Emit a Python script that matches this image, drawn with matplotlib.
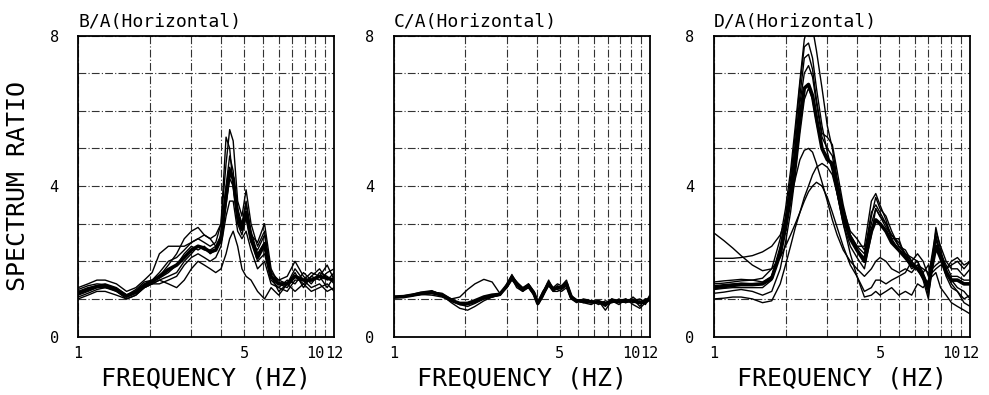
import matplotlib
matplotlib.use("Agg")
import matplotlib.pyplot as plt

plt.rcParams['font.family'] = ['DejaVu Sans Mono']

# ---- B/A (Horizontal) ----
freq_ba = [1.0, 1.1, 1.2, 1.3, 1.45, 1.6, 1.75, 1.9, 2.05, 2.2, 2.4, 2.6, 2.8, 3.0, 3.2, 3.4,
           3.6, 3.8, 4.0, 4.2, 4.35, 4.5, 4.7, 4.9, 5.1, 5.35, 5.7, 6.1, 6.5, 7.0, 7.6, 8.2,
           8.9, 9.6, 10.4, 11.2, 12.0]
ba_curves = [
    [1.25, 1.35, 1.40, 1.38, 1.25, 1.10, 1.25, 1.45, 1.50, 1.70, 2.00, 2.10, 2.30, 2.50, 2.60, 2.50,
     2.40, 2.50, 3.00, 4.60, 5.50, 5.20, 3.60, 3.20, 3.90, 3.00, 2.40, 2.80, 1.60, 1.50, 1.40, 1.80,
     1.50, 1.70, 1.60, 1.90, 1.50],
    [1.10, 1.20, 1.30, 1.30, 1.20, 1.05, 1.20, 1.40, 1.50, 1.60, 1.90, 2.20, 2.60, 2.80, 2.90, 2.70,
     2.60, 2.70, 3.00, 5.30, 5.00, 4.00, 3.00, 2.90, 3.50, 2.70, 2.50, 3.00, 1.80, 1.40, 1.30, 1.60,
     1.40, 1.60, 1.80, 1.50, 1.70],
    [1.30, 1.40, 1.50, 1.50, 1.40, 1.20, 1.30, 1.50, 1.70, 2.20, 2.40, 2.40, 2.40, 2.50, 2.60, 2.70,
     2.60, 2.40, 2.50, 3.80, 4.50, 4.20, 3.40, 3.00, 3.60, 2.80, 2.20, 2.50, 1.70, 1.50, 1.60, 2.00,
     1.60, 1.40, 1.70, 1.60, 1.40],
    [1.00, 1.10, 1.20, 1.20, 1.10, 1.00, 1.10, 1.30, 1.40, 1.50, 1.40, 1.30, 1.50, 1.80, 2.00, 1.90,
     1.80, 1.70, 1.80, 2.20, 2.60, 2.80, 2.40, 1.80, 1.60, 1.50, 1.20, 1.00, 1.30, 1.10, 1.40, 1.20,
     1.40, 1.20, 1.30, 1.40, 1.20],
    [1.15, 1.25, 1.35, 1.40, 1.30, 1.10, 1.20, 1.35, 1.45, 1.55, 1.70, 1.90, 2.20, 2.40, 2.30, 2.40,
     2.20, 2.30, 2.60, 3.50, 4.20, 4.00, 3.20, 3.00, 3.20, 2.60, 2.00, 2.20, 1.50, 1.30, 1.50, 1.40,
     1.70, 1.50, 1.60, 1.30, 1.60],
    [1.05, 1.15, 1.25, 1.30, 1.25, 1.05, 1.15, 1.30, 1.40, 1.50, 1.60, 1.70, 2.00, 2.20, 2.40, 2.30,
     2.30, 2.40, 2.70, 4.00, 4.80, 4.40, 3.00, 2.70, 3.20, 2.50, 2.30, 2.70, 1.60, 1.20, 1.40, 1.70,
     1.30, 1.60, 1.50, 1.70, 1.80],
    [1.20, 1.30, 1.35, 1.35, 1.20, 1.00, 1.10, 1.30, 1.40, 1.40, 1.50, 1.60, 1.90, 2.10, 2.20, 2.10,
     2.00, 2.10, 2.40, 3.20, 3.60, 3.60, 2.80, 2.60, 2.80, 2.30, 1.80, 2.00, 1.40, 1.30, 1.20, 1.50,
     1.50, 1.30, 1.40, 1.20, 1.30],
]
ba_mean = [1.15, 1.25, 1.33, 1.35, 1.25, 1.08, 1.18, 1.36, 1.46, 1.60, 1.78, 1.90, 2.10, 2.30, 2.40, 2.35,
           2.25, 2.30, 2.60, 3.75, 4.40, 4.20, 3.20, 2.85, 3.30, 2.60, 2.10, 2.45, 1.60, 1.40, 1.40, 1.60,
           1.50, 1.50, 1.60, 1.55, 1.50]

# ---- C/A (Horizontal) ----
freq_ca = [1.0, 1.1, 1.2, 1.3, 1.45, 1.6, 1.75, 1.9, 2.05, 2.2, 2.4, 2.6, 2.8, 3.0, 3.15, 3.3,
           3.5, 3.7, 3.9, 4.05, 4.25, 4.5, 4.7, 4.9, 5.1, 5.35, 5.6, 5.9, 6.3, 6.8, 7.3, 7.8,
           8.3, 8.9, 9.5, 10.2, 10.9, 11.5, 12.0]
ca_curves = [
    [1.05, 1.07, 1.10, 1.12, 1.15, 1.10, 1.00, 1.05, 1.25, 1.40, 1.52, 1.45, 1.15, 1.30, 1.55, 1.30,
     1.20, 1.40, 1.10, 0.90, 1.20, 1.40, 1.30, 1.25, 1.20, 1.30, 1.00, 0.95, 0.90, 0.95, 0.85, 0.95,
     0.90, 1.00, 0.90, 0.95, 1.00, 0.90, 1.00],
    [1.05, 1.08, 1.12, 1.18, 1.22, 1.10, 0.90, 0.75, 0.70, 0.80, 0.95, 1.05, 1.10, 1.35, 1.65, 1.40,
     1.25, 1.35, 1.15, 0.85, 1.05, 1.45, 1.20, 1.30, 1.35, 1.50, 1.05, 0.95, 0.95, 0.90, 0.95, 0.70,
     0.95, 0.85, 1.00, 0.85, 0.75, 0.90, 1.10],
    [1.05, 1.06, 1.08, 1.15, 1.20, 1.12, 0.95, 0.85, 0.85, 0.90, 1.00, 1.05, 1.10, 1.40, 1.60, 1.45,
     1.25, 1.30, 1.20, 0.90, 1.15, 1.50, 1.25, 1.35, 1.30, 1.40, 1.00, 0.90, 1.00, 0.95, 0.90, 0.85,
     1.00, 0.90, 0.95, 1.00, 0.80, 1.00, 0.95],
    [1.03, 1.05, 1.10, 1.12, 1.10, 1.05, 0.95, 0.88, 0.90, 0.95, 1.02, 1.08, 1.10, 1.30, 1.50, 1.35,
     1.20, 1.30, 1.10, 0.85, 1.10, 1.35, 1.20, 1.20, 1.25, 1.35, 1.05, 0.95, 0.90, 0.85, 0.95, 0.90,
     0.90, 0.95, 1.00, 0.90, 0.95, 0.85, 1.05],
    [1.04, 1.06, 1.09, 1.12, 1.18, 1.15, 1.00, 0.85, 0.80, 0.88, 1.00, 1.05, 1.12, 1.35, 1.58, 1.45,
     1.30, 1.40, 1.20, 0.88, 1.10, 1.40, 1.30, 1.40, 1.35, 1.45, 1.10, 0.95, 0.95, 0.90, 0.95, 0.80,
     1.00, 0.95, 0.90, 1.05, 0.90, 1.00, 1.00],
]
ca_mean = [1.05, 1.06, 1.10, 1.14, 1.17, 1.10, 0.96, 0.88, 0.88, 0.95, 1.05, 1.10, 1.12, 1.35, 1.58, 1.40,
           1.25, 1.35, 1.15, 0.88, 1.12, 1.42, 1.25, 1.30, 1.30, 1.40, 1.05, 0.95, 0.95, 0.92, 0.92, 0.85,
           0.95, 0.93, 0.95, 0.95, 0.90, 0.92, 1.00]

# ---- D/A (Horizontal) ----
freq_da = [1.0, 1.1, 1.2, 1.3, 1.45, 1.6, 1.75, 1.9, 2.0, 2.1, 2.2, 2.3, 2.4, 2.5, 2.6, 2.7,
           2.85, 3.0, 3.15, 3.3, 3.5, 3.75, 4.0, 4.3, 4.6, 4.8, 5.0, 5.3, 5.6, 6.0, 6.4, 6.8,
           7.2, 7.6, 8.0, 8.3, 8.6, 9.0, 9.5, 10.0, 10.6, 11.3, 12.0]
da_curves = [
    [1.40, 1.42, 1.45, 1.48, 1.50, 1.55, 1.80, 2.60, 3.40, 4.40, 5.60, 6.80, 7.90, 8.30, 8.20, 7.60,
     6.60, 5.60, 5.00, 4.20, 3.40, 2.80, 2.60, 2.30, 3.00, 3.40, 3.20, 3.00, 2.70, 2.40, 2.30, 2.00,
     2.20, 2.00, 1.60, 2.20, 2.80, 2.40, 2.00, 1.80, 1.80, 1.60, 1.80],
    [1.35, 1.38, 1.40, 1.42, 1.40, 1.40, 1.60, 2.40, 3.20, 4.20, 5.40, 6.70, 7.70, 7.80, 7.40, 6.60,
     5.60, 4.90, 4.40, 3.80, 3.10, 2.60, 2.30, 2.10, 3.20, 3.70, 3.40, 3.20, 2.80, 2.40, 2.20, 2.00,
     1.80, 1.50, 1.00, 2.00, 2.90, 2.30, 1.80, 1.50, 1.30, 1.20, 1.00],
    [1.25, 1.28, 1.30, 1.30, 1.30, 1.30, 1.50, 2.20, 3.00, 3.90, 5.10, 6.40, 7.40, 7.50, 7.10, 6.30,
     5.40, 5.30, 5.10, 4.40, 3.50, 2.70, 2.40, 2.40, 3.60, 3.80, 3.50, 3.10, 2.60, 2.60, 2.10, 1.80,
     1.90, 1.60, 1.20, 1.80, 2.60, 2.10, 1.60, 1.30, 1.20, 0.90, 0.80],
    [2.08, 2.08, 2.08, 2.10, 2.15, 2.25, 2.40, 2.70, 3.10, 3.60, 4.20, 4.70, 4.95, 5.00, 4.90, 4.60,
     4.10, 3.60, 3.10, 2.70, 2.30, 2.00, 1.80, 1.60, 1.80, 2.00, 2.10, 2.00, 1.80, 1.70, 1.80, 1.70,
     1.90, 1.80, 1.70, 1.80, 1.90, 2.00, 1.80, 1.90, 2.00, 1.80, 2.00],
    [2.75, 2.55, 2.35, 2.15, 1.90, 1.75, 1.80, 2.10, 2.40, 2.70, 3.00, 3.30, 3.60, 3.85, 4.00, 4.10,
     4.00, 3.70, 3.30, 2.90, 2.40, 1.90, 1.60, 1.20, 1.30, 1.50, 1.50, 1.40, 1.50, 1.60, 1.70, 2.00,
     1.80, 1.70, 1.90, 1.70, 1.80, 1.90, 1.80, 2.00, 2.10, 1.90, 2.00],
    [1.00, 1.02, 1.05, 1.05, 1.00, 0.90, 0.95, 1.40, 1.90, 2.40, 2.90, 3.30, 3.70, 4.00, 4.30, 4.50,
     4.60, 4.50, 4.30, 3.80, 3.00, 2.20, 1.60, 1.05, 1.10, 1.20, 1.10, 1.20, 1.30, 1.10, 1.20, 1.10,
     1.40, 1.30, 1.50, 1.60, 1.70, 1.30, 1.10, 0.90, 0.80, 0.70, 0.60],
    [1.15, 1.18, 1.22, 1.25, 1.20, 1.10, 1.20, 1.80, 2.50, 3.30, 4.30, 5.40, 6.30, 6.60, 6.30, 5.70,
     5.00, 4.80, 4.50, 3.80, 3.00, 2.40, 2.10, 1.80, 2.70, 3.40, 3.20, 2.90, 2.70, 2.50, 2.20, 2.10,
     2.00, 1.60, 1.10, 2.10, 2.70, 2.20, 1.70, 1.40, 1.20, 1.00, 1.10],
    [1.45, 1.48, 1.50, 1.52, 1.50, 1.45, 1.60, 2.30, 3.10, 4.00, 5.10, 6.20, 7.00, 7.20, 6.90, 6.20,
     5.30, 5.00, 4.80, 4.10, 3.30, 2.70, 2.40, 2.20, 3.30, 3.50, 3.30, 3.00, 2.60, 2.30, 2.20, 1.90,
     2.00, 1.70, 1.30, 2.00, 2.60, 2.20, 1.90, 1.60, 1.60, 1.50, 1.50],
]
da_mean = [1.30, 1.33, 1.36, 1.38, 1.38, 1.40, 1.55, 2.20, 2.90, 3.70, 4.70, 5.80, 6.60, 6.70, 6.40, 5.80,
           5.00, 4.70, 4.60, 4.00, 3.20, 2.60, 2.30, 2.00, 2.80, 3.10, 3.00, 2.80, 2.50, 2.30, 2.10, 1.90,
           1.80, 1.60, 1.30, 1.90, 2.40, 2.10, 1.70, 1.50, 1.50, 1.40, 1.40]

titles = ["B/A(Horizontal)", "C/A(Horizontal)", "D/A(Horizontal)"]
x_ticks = list(range(1, 13))
x_labels = ['1', '', '', '', '5', '', '', '', '', '10', '', '12']
y_ticks = list(range(0, 9))
y_labels = ['0', '', '', '', '4', '', '', '', '8']

panels = [(freq_ba, ba_curves, ba_mean),
          (freq_ca, ca_curves, ca_mean),
          (freq_da, da_curves, da_mean)]
lefts = [0.079, 0.398, 0.722]

fig = plt.figure(figsize=(9.89, 3.95), dpi=100)
for i, (freq, curves, mean) in enumerate(panels):
    ax = fig.add_axes([lefts[i], 0.148, 0.259, 0.762])
    for c in curves:
        ax.plot(freq, c, color='black', lw=1.0)
    ax.plot(freq, mean, color='black', lw=2.6)

    ax.set_xscale('log')
    ax.set_xlim(1, 12)
    ax.set_ylim(0, 8)
    ax.set_xticks(x_ticks)
    ax.set_xticklabels(x_labels)
    ax.minorticks_off()
    ax.set_yticks(y_ticks)
    ax.set_yticklabels(y_labels)
    ax.tick_params(length=0, labelsize=11)
    ax.tick_params(axis='y', pad=14)
    ax.tick_params(axis='x', pad=7)
    ax.grid(True, color='#333333', lw=0.8, linestyle=(0, (7, 2, 1, 2)))
    for s in ax.spines.values():
        s.set_linewidth(1.3)

    ax.set_title(titles[i], loc='left', fontsize=13, pad=6)
    ax.set_xlabel('FREQUENCY (HZ)', fontsize=18, labelpad=4)
    if i == 0:
        ax.set_ylabel('SPECTRUM RATIO', fontsize=18, labelpad=14)

fig.savefig('out.png', dpi=100)
